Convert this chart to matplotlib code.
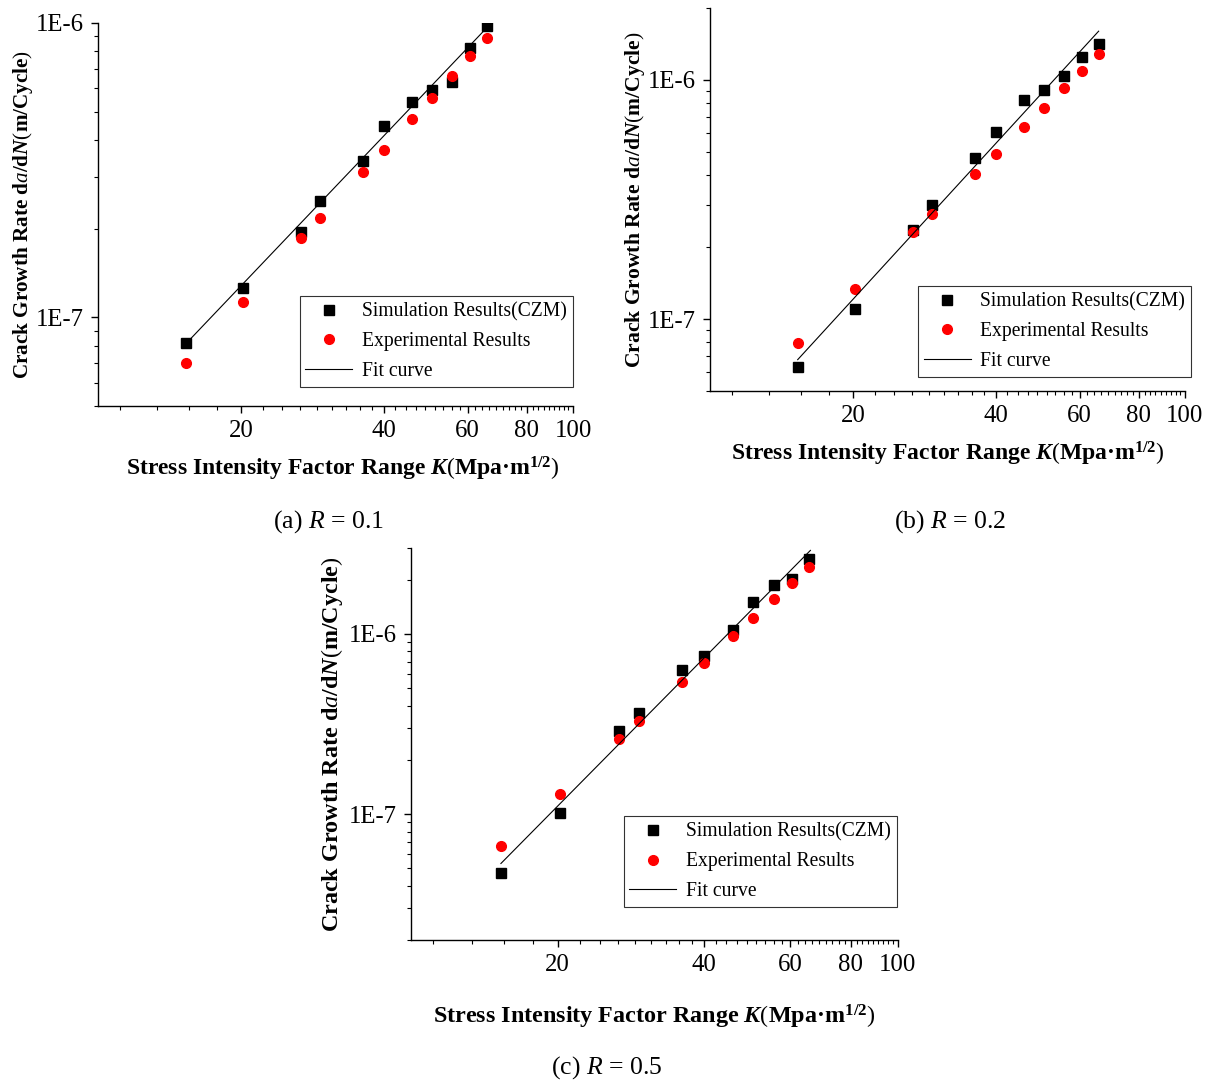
import numpy as np
import matplotlib
matplotlib.use("Agg")
import matplotlib.pyplot as plt
from matplotlib.ticker import FixedLocator, FuncFormatter, LogLocator, NullFormatter

plt.rcParams['font.family'] = ['Liberation Serif', 'DejaVu Serif']
plt.rcParams['mathtext.fontset'] = 'custom'
plt.rcParams['mathtext.rm'] = 'Liberation Serif'
plt.rcParams['mathtext.it'] = 'Liberation Serif:italic'
plt.rcParams['mathtext.bf'] = 'Liberation Serif:bold'
plt.rcParams['mathtext.bfit'] = 'Liberation Serif:italic:bold'

# stress intensity factor range (same K levels in every panel)
k_range = [15.3, 20.2, 26.8, 29.4, 36.1, 40.0, 45.8, 50.4, 55.6, 60.7, 65.8]

# R = 0.1
sim_01 = [8.2e-8, 1.26e-7, 1.95e-7, 2.48e-7, 3.40e-7, 4.47e-7, 5.38e-7, 5.94e-7, 6.28e-7, 8.22e-7, 9.75e-7]
exp_01 = [7.0e-8, 1.13e-7, 1.86e-7, 2.18e-7, 3.11e-7, 3.69e-7, 4.72e-7, 5.58e-7, 6.62e-7, 7.70e-7, 8.87e-7]
fit_k_01 = [15.6, 65.5]
fit_01 = [8.4e-8, 9.55e-7]

# R = 0.2
sim_02 = [6.3e-8, 1.10e-7, 2.36e-7, 3.0e-7, 4.71e-7, 6.08e-7, 8.25e-7, 9.06e-7, 1.04e-6, 1.25e-6, 1.41e-6]
exp_02 = [7.9e-8, 1.33e-7, 2.31e-7, 2.74e-7, 4.05e-7, 4.91e-7, 6.38e-7, 7.66e-7, 9.23e-7, 1.09e-6, 1.28e-6]
fit_k_02 = [15.3, 65.8]
fit_02 = [6.76e-8, 1.60e-6]

# R = 0.5
sim_05 = [4.7e-8, 1.02e-7, 2.89e-7, 3.62e-7, 6.34e-7, 7.52e-7, 1.05e-6, 1.50e-6, 1.88e-6, 2.02e-6, 2.62e-6]
exp_05 = [6.65e-8, 1.29e-7, 2.62e-7, 3.28e-7, 5.39e-7, 6.90e-7, 9.70e-7, 1.23e-6, 1.56e-6, 1.93e-6, 2.35e-6]
fit_k_05 = [15.3, 66.1]
fit_05 = [5.32e-8, 2.91e-6]

x_major = [20, 40, 60, 80, 100]
x_minor = [v for v in np.arange(1, 46) * 20 / 9 if 10 < v < 100 and round(v) % 20 != 0]

fig = plt.figure(figsize=(12.13, 10.83), dpi=100)


def panel(rect, sim, exp, fit_k, fit, ylim, leg_anchor, lab_size, xlab_x, caption, cap_xy):
    ax = fig.add_axes(rect)
    ax.set_xscale('log')
    ax.set_yscale('log')
    ax.plot(k_range, sim, 's', color='black', ms=6.5, label='Simulation Results(CZM)')
    ax.plot(k_range, exp, 'o', color='red', ms=7, label='Experimental Results')
    ax.plot(fit_k, fit, '-', color='black', lw=0.8, label='Fit curve')
    ax.set_xlim(10, 100)
    ax.set_ylim(*ylim)

    ax.xaxis.set_major_locator(FixedLocator(x_major))
    ax.xaxis.set_major_formatter(FuncFormatter(lambda v, _: f"{v:g}"))
    ax.xaxis.set_minor_locator(FixedLocator(x_minor))
    ax.xaxis.set_minor_formatter(NullFormatter())
    ax.yaxis.set_major_locator(LogLocator(base=10))
    ax.yaxis.set_major_formatter(FuncFormatter(lambda v, _: f"1E{int(round(np.log10(v)))}"))
    ax.yaxis.set_minor_locator(LogLocator(base=10, subs=np.arange(2, 10)))
    ax.yaxis.set_minor_formatter(NullFormatter())

    ax.spines['top'].set_visible(False)
    ax.spines['right'].set_visible(False)
    for s in ('left', 'bottom'):
        ax.spines[s].set_linewidth(1.0)
    ax.tick_params(which='major', direction='out', length=5, width=1, labelsize=17.8, pad=5)
    ax.tick_params(which='minor', direction='out', length=3, width=0.8)

    ax.set_xlabel(r"Stress Intensity Factor Range $\mathbfit{K}$$\mathrm{(}$Mpa·m$^{\mathbf{1/2}}$$\mathrm{)}$",
                  fontsize=lab_size[0], fontweight='bold', labelpad=lab_size[2])
    ax.xaxis.label.set_x(xlab_x)
    ax.set_ylabel(r"Crack Growth Rate d$\mathit{a}$/d$\mathbfit{N}$$\mathrm{(}$m/Cycle$\mathrm{)}$",
                  fontsize=lab_size[1], fontweight='bold', labelpad=lab_size[3])

    leg = ax.legend(loc='lower right', bbox_to_anchor=leg_anchor, bbox_transform=fig.transFigure,
                    fontsize=14.1, frameon=True, fancybox=False, edgecolor='black',
                    handlelength=2.4, handletextpad=0.5, labelspacing=0.55, borderpad=0.3,
                    borderaxespad=0)
    leg.get_frame().set_linewidth(0.8)

    fig.text(cap_xy[0], cap_xy[1], caption, ha='center', va='center', fontsize=18.5)
    return ax


panel([0.0808, 0.6251, 0.3916, 0.3537], sim_01, exp_01, fit_k_01, fit_01, (5e-8, 1e-6),
      (0.4724, 0.6427), (17.0, 15.2, 9, 1), 0.515, r"(a) $R$ = 0.1", (0.2704, 0.5180))
panel([0.5853, 0.6390, 0.3916, 0.3536], sim_02, exp_02, fit_k_02, fit_02, (5e-8, 2e-6),
      (0.9819, 0.6519), (17.0, 15.6, 9, 1), 0.5, r"(b) $R$ = 0.2", (0.7832, 0.5180))
panel([0.3388, 0.1320, 0.4015, 0.3620], sim_05, exp_05, fit_k_05, fit_05, (2e-8, 3e-6),
      (0.7395, 0.1625), (17.4, 17.4, 19, 3), 0.5, r"(c) $R$ = 0.5", (0.5004, 0.0138))

fig.savefig("out.png", dpi=100)
